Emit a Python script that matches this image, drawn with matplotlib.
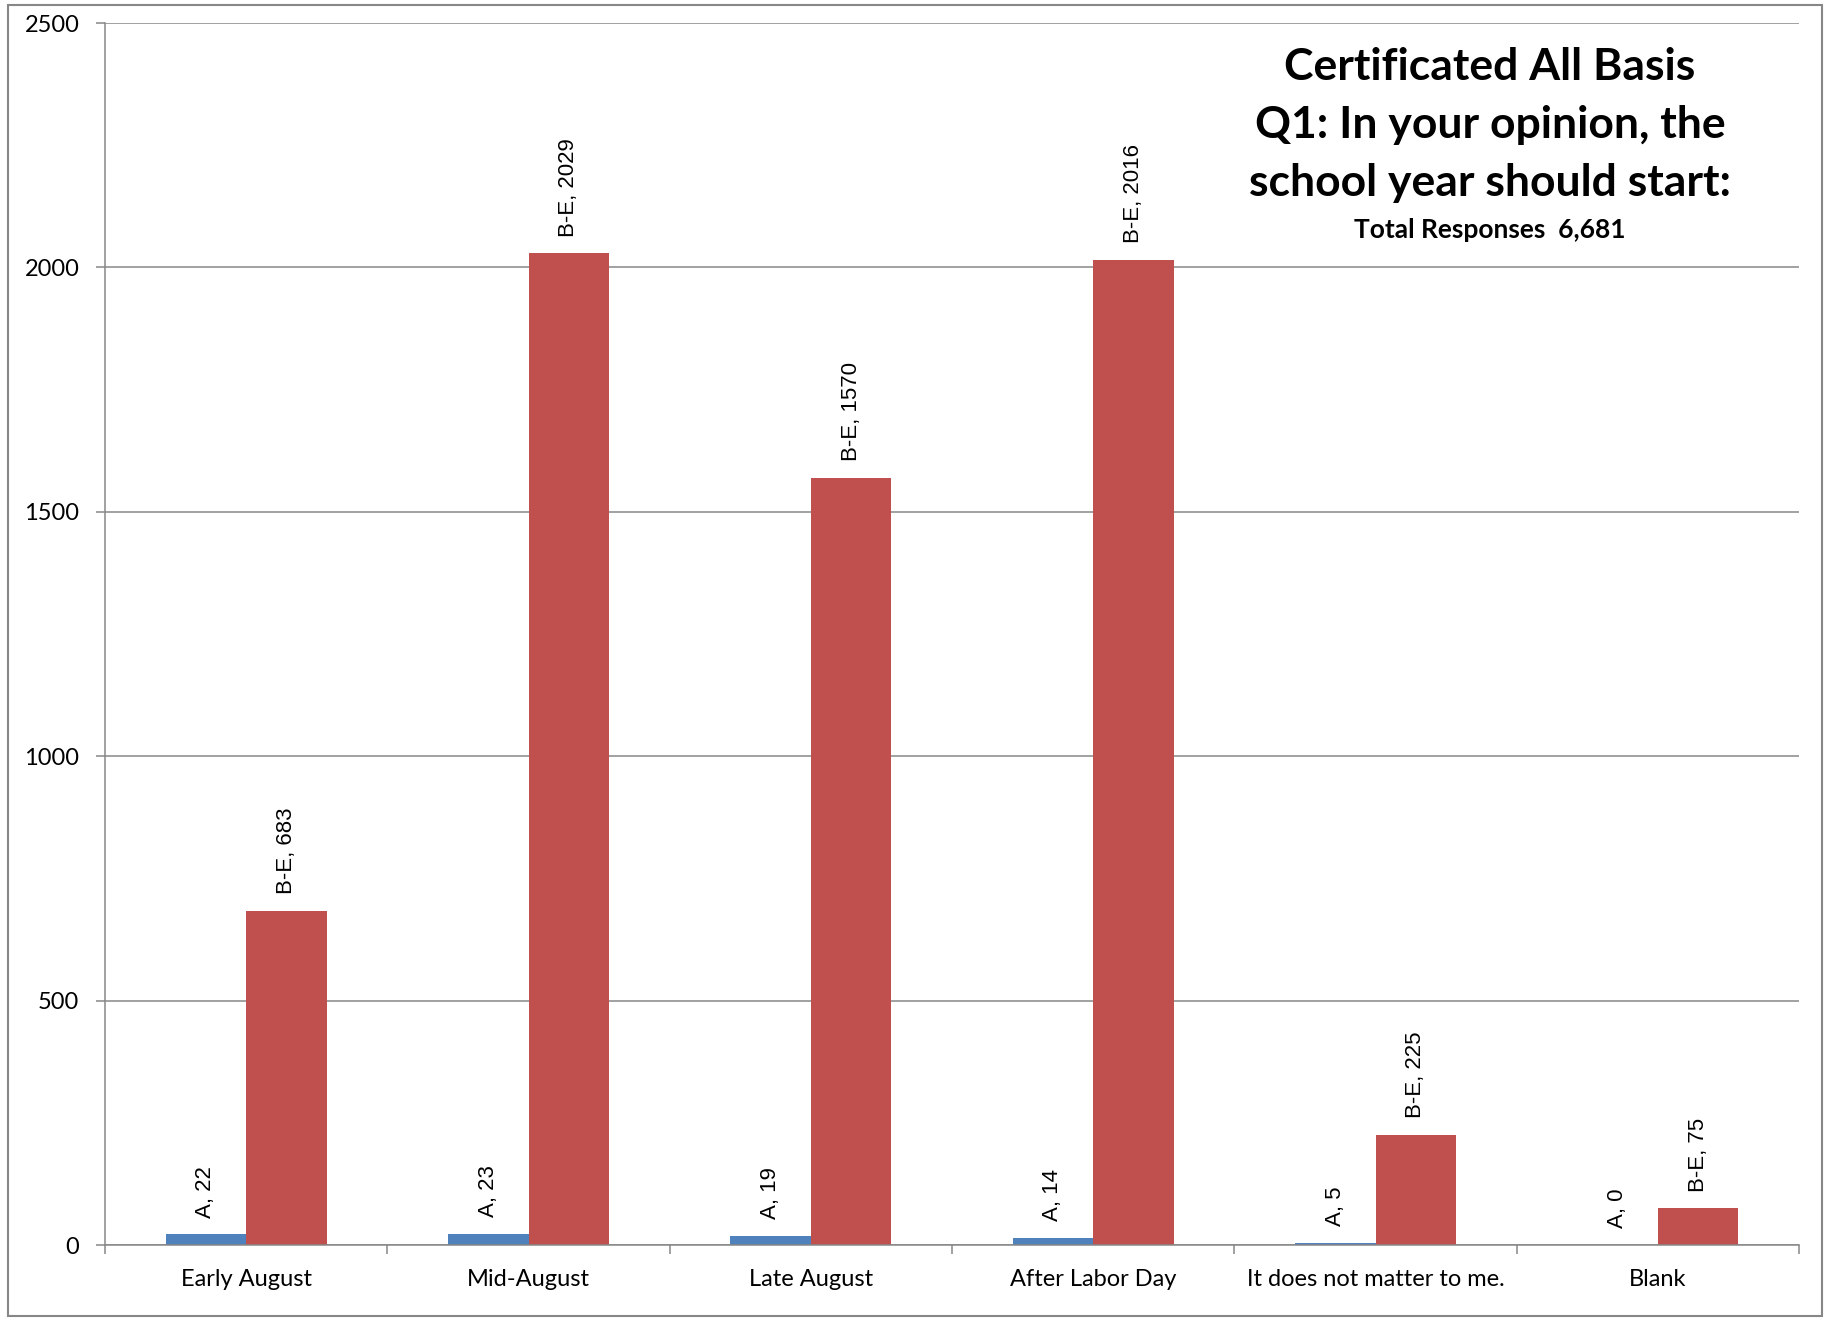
import matplotlib
matplotlib.use("Agg")
import matplotlib.pyplot as plt
from matplotlib.patches import Rectangle
import numpy as np

categories = ["Early August", "Mid-August", "Late August", "After Labor Day",
              "It does not matter to me.", "Blank"]
series_names = ["A", "B-E"]
a_values = [22, 23, 19, 14, 5, 0]
be_values = [683, 2029, 1570, 2016, 225, 75]
y_ticks = [0, 500, 1000, 1500, 2000, 2500]
title_lines = ["Certificated All Basis", "Q1: In your opinion, the",
               "school year should start:"]
subtitle = "Total Responses  6,681"

W, H = 1826, 1320
fig = plt.figure(figsize=(W / 100, H / 100), dpi=100)
ax = fig.add_axes([105 / W, 1 - 1245 / H, (1799 - 105) / W, (1245 - 23) / H])

x = np.arange(len(categories))
w = 0.285
blue = "#4F81BD"
red = "#C0504D"
grid_col = "#878787"

bars_a = ax.bar(x - w / 2, a_values, w, color=blue, zorder=3)
bars_b = ax.bar(x + w / 2, be_values, w, color=red, zorder=3)

lab_font = dict(family=["Liberation Sans", "DejaVu Sans"], size=16)
for xi, v in zip(x - w / 2, a_values):
    ax.annotate(f"{series_names[0]}, {v}", xy=(xi, v), xytext=(0, 12),
                textcoords="offset points", rotation=90, ha="center",
                va="bottom", **lab_font)
for xi, v in zip(x + w / 2, be_values):
    ax.annotate(f"{series_names[1]}, {v}", xy=(xi, v), xytext=(0, 12),
                textcoords="offset points", rotation=90, ha="center",
                va="bottom", **lab_font)

ax.set_xlim(-0.5, len(categories) - 0.5)
ax.set_ylim(0, 2500)
ax.set_yticks(y_ticks)
ax.set_xticks(x)
ax.set_xticklabels(categories)
ax.set_xticks(np.arange(-0.5, len(categories), 1), minor=True)
ax.tick_params(axis="x", which="major", length=0, pad=17)
ax.tick_params(axis="x", which="minor", length=6.5, width=1.1, color=grid_col)
ax.tick_params(axis="y", length=6.5, width=1.1, color=grid_col, pad=12)
for lab in ax.get_xticklabels() + ax.get_yticklabels():
    lab.set_fontfamily(["Lato", "DejaVu Sans"])
    lab.set_fontsize(17)

ax.yaxis.grid(True, color=grid_col, linewidth=1.1, zorder=0)
ax.set_axisbelow(True)
for s in ["top", "right"]:
    ax.spines[s].set_visible(False)
for s in ["left", "bottom"]:
    ax.spines[s].set_color(grid_col)
    ax.spines[s].set_linewidth(1.1)
    ax.spines[s].set_zorder(4)

# title block
cx = 1490 / W
for line, yb in zip(title_lines, [80, 138, 196]):
    fig.text(cx, 1 - yb / H, line, ha="center", va="baseline",
             fontsize=32, fontweight="bold", family=["Lato", "DejaVu Sans"])
fig.text(cx, 1 - 238 / H, subtitle, ha="center", va="baseline",
         fontsize=19, fontweight="bold", family=["Lato", "DejaVu Sans"])

# outer chart border
fig.patches.append(Rectangle((8 / W, 1 - 1316 / H), (1822 - 8) / W, (1316 - 5) / H,
                             transform=fig.transFigure, fill=False,
                             edgecolor=grid_col, linewidth=1.5))

fig.savefig("out.png", dpi=100)
